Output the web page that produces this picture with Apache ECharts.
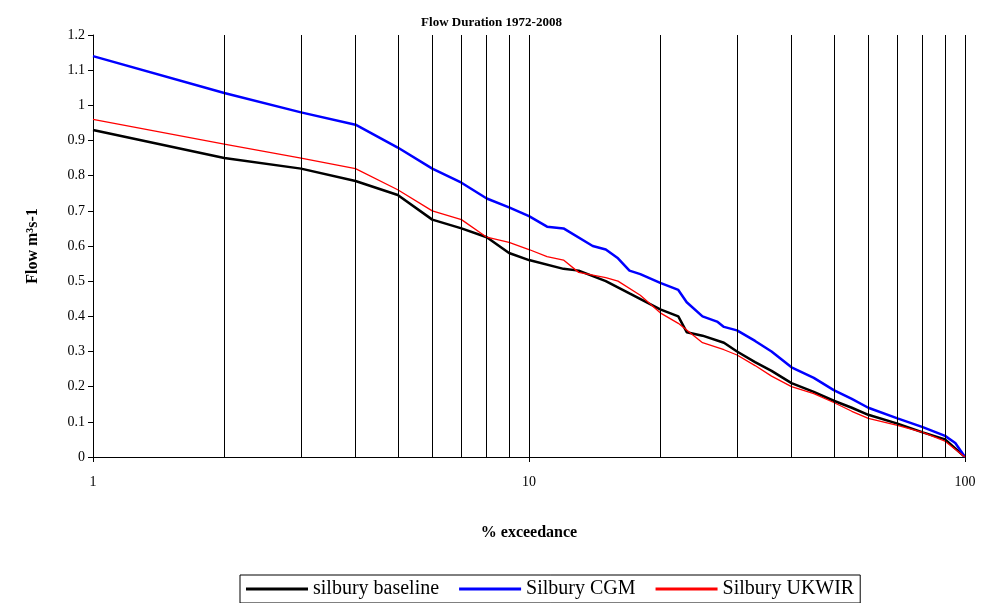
<!DOCTYPE html>
<html><head><meta charset="utf-8">
<script src="https://cdn.jsdelivr.net/npm/echarts@6/dist/echarts.min.js"></script>
<style>html,body{margin:0;padding:0;background:#fff}#c{width:983px;height:603px}</style>
</head><body><div id="c"></div>
<script>
const baselineX=[1,2,3,4,5,6,7,8,9,10,12,13,15,17,20,22,23,25,28,30,33,36,40,45,50,55,60,70,80,90,100];
const baselineY=[0.93,0.85,0.82,0.785,0.745,0.675,0.65,0.625,0.58,0.56,0.535,0.53,0.5,0.465,0.42,0.4,0.355,0.345,0.325,0.3,0.27,0.245,0.21,0.185,0.16,0.14,0.12,0.095,0.07,0.05,0];
const cgmX=[1,2,3,4,5,6,7,8,9,10,11,12,14,15,16,17,18,20,22,23,25,27,28,30,33,36,40,45,50,55,60,70,80,90,95,100];
const cgmY=[1.14,1.035,0.98,0.945,0.88,0.82,0.78,0.735,0.71,0.685,0.655,0.65,0.6,0.59,0.565,0.53,0.52,0.495,0.475,0.44,0.4,0.385,0.37,0.36,0.33,0.3,0.255,0.225,0.19,0.165,0.14,0.11,0.085,0.06,0.04,0];
const ukwirX=[1,2,3,4,5,6,7,8,9,10,11,12,13,15,16,18,20,22,25,28,30,33,36,40,45,50,55,60,70,80,90,100];
const ukwirY=[0.96,0.89,0.85,0.82,0.76,0.7,0.675,0.625,0.61,0.59,0.57,0.56,0.525,0.51,0.5,0.46,0.41,0.38,0.325,0.305,0.29,0.26,0.23,0.2,0.18,0.155,0.13,0.11,0.09,0.07,0.045,0];
const gridX=[2,3,4,5,6,7,8,9,10,20,30,40,50,60,70,80,90,100];
const zip=(a,b)=>a.map((v,i)=>[v,b[i]]);
const F='Liberation Serif';
const ch=echarts.init(document.getElementById('c'));
ch.setOption({
  animation:false,
  title:{text:'Flow Duration 1972-2008',left:'center',top:11,textStyle:{fontFamily:F,fontSize:13,fontWeight:'bold',color:'#000'}},
  grid:{left:93,right:18,top:35,bottom:146},
  legend:{bottom:0,left:240,itemWidth:62,itemHeight:3,itemGap:20,icon:'rect',borderColor:'#000',borderWidth:1,borderRadius:0,padding:[4,6],
    textStyle:{fontFamily:F,fontSize:20,color:'#000'},data:['silbury baseline','Silbury CGM','Silbury UKWIR']},
  xAxis:{type:'log',logBase:10,min:1,max:100,name:'% exceedance',nameLocation:'middle',nameGap:68,
    nameTextStyle:{fontFamily:F,fontSize:16,fontWeight:'bold',color:'#000'},
    axisLine:{lineStyle:{color:'#000'}},axisTick:{show:true,lineStyle:{color:'#000'}},
    axisLabel:{fontFamily:F,fontSize:14,color:'#000',margin:18},splitLine:{show:false}},
  yAxis:{type:'value',min:0,max:1.2,interval:0.1,name:'Flow m³s-1',nameLocation:'middle',nameGap:52,
    nameTextStyle:{fontFamily:F,fontSize:16,fontWeight:'bold',color:'#000'},
    axisLine:{show:true,lineStyle:{color:'#000'}},axisTick:{show:true,inside:false,lineStyle:{color:'#000'}},
    axisLabel:{fontFamily:F,fontSize:14,color:'#000'},splitLine:{show:false}},
  series:[
    {name:'silbury baseline',type:'line',data:zip(baselineX,baselineY),showSymbol:false,lineStyle:{color:'#000',width:2.5},itemStyle:{color:'#000'},
     markLine:{silent:true,symbol:'none',label:{show:false},lineStyle:{color:'#000',width:1,type:'solid'},data:gridX.map(v=>({xAxis:v}))}},
    {name:'Silbury CGM',type:'line',data:zip(cgmX,cgmY),showSymbol:false,lineStyle:{color:'#0000ff',width:2.5},itemStyle:{color:'#0000ff'}},
    {name:'Silbury UKWIR',type:'line',data:zip(ukwirX,ukwirY),showSymbol:false,lineStyle:{color:'#ff0000',width:1.3},itemStyle:{color:'#ff0000'}}
  ]
});
</script></body></html>
